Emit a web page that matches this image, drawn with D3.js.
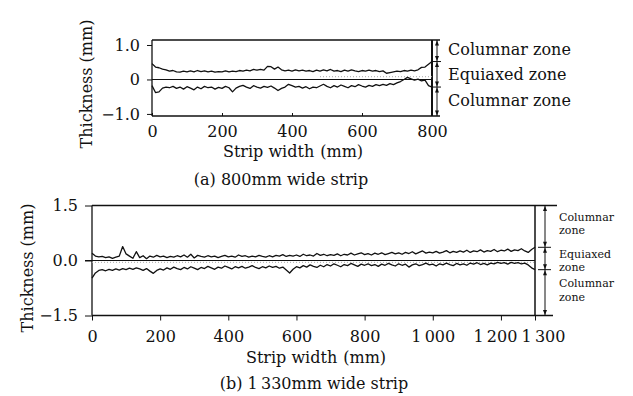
<!DOCTYPE html>
<html><head><meta charset="utf-8">
<script src="https://cdn.jsdelivr.net/npm/d3@7"></script>
<style>
html,body{margin:0;padding:0;background:#fff;}
svg{display:block;}
text{font-family:"DejaVu Serif",serif;fill:#111;}
</style></head>
<body>
<svg id="c" width="633" height="396"></svg>
<script>
// ---------- data ----------
const stepMM = 10;
// (a) 800 mm wide strip: thickness offsets (mm) sampled every 10 mm, 0..800
const topUpper = [0.46,0.36,0.34,0.30,0.28,0.24,0.26,0.22,0.21,0.24,0.22,0.25,0.22,0.26,0.23,0.25,0.22,0.24,0.21,0.23,
  0.22,0.25,0.22,0.24,0.23,0.26,0.24,0.27,0.25,0.29,0.27,0.29,0.27,0.38,0.37,0.30,0.36,0.28,0.25,0.27,
  0.24,0.28,0.25,0.27,0.24,0.26,0.23,0.27,0.24,0.28,0.25,0.29,0.24,0.26,0.23,0.27,0.24,0.28,0.25,0.23,
  0.26,0.24,0.27,0.24,0.26,0.23,0.25,0.18,0.20,0.22,0.24,0.23,0.26,0.24,0.27,0.25,0.28,0.35,0.36,0.44,0.52];
const topLower = [-0.18,-0.38,-0.36,-0.25,-0.22,-0.24,-0.20,-0.26,-0.22,-0.28,-0.21,-0.25,-0.30,-0.22,-0.27,-0.20,-0.24,-0.22,-0.28,-0.23,
  -0.26,-0.20,-0.24,-0.36,-0.25,-0.20,-0.17,-0.22,-0.26,-0.18,-0.22,-0.25,-0.20,-0.23,-0.19,-0.25,-0.32,-0.26,-0.22,-0.14,
  -0.18,-0.22,-0.20,-0.25,-0.21,-0.27,-0.22,-0.24,-0.19,-0.14,-0.20,-0.24,-0.18,-0.22,-0.16,-0.20,-0.24,-0.18,-0.21,-0.15,
  -0.19,-0.22,-0.17,-0.20,-0.15,-0.18,-0.14,-0.17,-0.12,-0.15,-0.10,-0.06,0.00,0.06,0.02,-0.02,0.01,-0.04,-0.02,-0.18,-0.22];
// (b) 1330 mm wide strip: sampled every 10 mm, 0..1300
const botUpper = [0.20,0.12,0.10,0.11,0.08,0.10,0.06,0.09,0.12,0.38,0.18,0.12,0.06,0.24,0.08,0.13,0.05,0.12,0.09,0.14,
  0.10,0.12,0.08,0.11,0.09,0.13,0.10,0.15,0.09,0.17,0.07,0.14,0.11,0.09,0.13,0.10,0.12,0.08,0.11,0.14,
  0.10,0.12,0.09,0.15,0.11,0.13,0.09,0.12,0.10,0.14,0.11,0.09,0.13,0.10,0.14,0.12,0.16,0.11,0.14,0.12,
  0.15,0.11,0.17,0.13,0.15,0.12,0.19,0.14,0.17,0.13,0.16,0.14,0.18,0.13,0.17,0.15,0.20,0.15,0.18,0.21,
  0.16,0.19,0.15,0.20,0.17,0.21,0.16,0.19,0.22,0.18,0.21,0.17,0.22,0.19,0.24,0.18,0.22,0.26,0.20,0.23,
  0.21,0.25,0.20,0.23,0.27,0.21,0.25,0.22,0.26,0.23,0.28,0.22,0.26,0.24,0.29,0.23,0.27,0.25,0.30,0.24,
  0.28,0.26,0.31,0.25,0.29,0.27,0.32,0.26,0.22,0.30,0.36];
const botLower = [-0.48,-0.34,-0.27,-0.25,-0.28,-0.24,-0.27,-0.23,-0.26,-0.22,-0.25,-0.21,-0.24,-0.20,-0.23,-0.27,-0.22,-0.29,-0.35,-0.27,
  -0.23,-0.26,-0.20,-0.24,-0.18,-0.22,-0.25,-0.19,-0.23,-0.17,-0.21,-0.25,-0.19,-0.22,-0.16,-0.20,-0.24,-0.18,-0.21,-0.15,
  -0.19,-0.23,-0.17,-0.20,-0.16,-0.21,-0.18,-0.14,-0.19,-0.22,-0.17,-0.20,-0.15,-0.19,-0.16,-0.21,-0.18,-0.26,-0.34,-0.24,
  -0.17,-0.20,-0.14,-0.18,-0.12,-0.16,-0.19,-0.13,-0.17,-0.11,-0.15,-0.09,-0.13,-0.17,-0.11,-0.14,-0.08,-0.12,-0.16,-0.10,
  -0.13,-0.09,-0.14,-0.11,-0.16,-0.10,-0.13,-0.08,-0.12,-0.15,-0.09,-0.13,-0.10,-0.18,-0.12,-0.09,-0.14,-0.11,-0.07,-0.12,
  -0.10,-0.15,-0.09,-0.12,-0.07,-0.11,-0.14,-0.08,-0.12,-0.09,-0.13,-0.07,-0.10,-0.06,-0.11,-0.08,-0.12,-0.07,-0.09,-0.05,
  -0.08,-0.06,-0.10,-0.05,-0.08,-0.06,-0.09,-0.07,-0.12,-0.20,-0.25];
const topXTicks = [0,200,400,600,800];
const topYTicks = [-1.0,0,1.0];
const topYLabels = ["\u22121.0","0","1.0"];
const botXTicks = [0,200,400,600,800,1000,1200,1300];
const botXLabels = ["0","200","400","600","800","1\u2009000","1\u2009200","1\u2009300"];
const botYTicks = [-1.5,0,1.5];
const botYLabels = ["\u22121.5","0.0","1.5"];
const topZones = ["Columnar zone","Equiaxed zone","Columnar zone"];
const botZones = [["Columnar","zone"],["Equiaxed","zone"],["Columnar","zone"]];
const topBounds = [0.52,-0.22];
const botBounds = [0.36,-0.25];

// ---------- drawing ----------
const svg = d3.select("#c");
const ink = "#111";

function curve(g, data, x, y){
  g.append("path")
    .datum(data.map((v,i)=>[i*stepMM, v]))
    .attr("fill","none").attr("stroke",ink).attr("stroke-width",1.3)
    .attr("stroke-linejoin","round")
    .attr("d", d3.line().x(d=>x(d[0])).y(d=>y(d[1])));
}
function arrow(g, x, y, dir){ // dir: -1 up, +1 down
  g.append("path")
   .attr("d", `M${x},${y} L${x-2},${y-dir*5} L${x+2},${y-dir*5} Z`)
   .attr("fill", ink);
}
function bracket(g, bx, yTop, yBot, yA, yB, tx0, tx1){
  g.append("line").attr("x1",bx).attr("x2",bx).attr("y1",yTop).attr("y2",yBot)
    .attr("stroke",ink).attr("stroke-width",1);
  [yA,yB].forEach(yy=>g.append("line").attr("x1",tx0).attr("x2",tx1).attr("y1",yy).attr("y2",yy)
    .attr("stroke",ink).attr("stroke-width",1));
  [[yTop,yA],[yA,yB],[yB,yBot]].forEach(([a,b])=>{ arrow(g,bx,a+0.5,-1); arrow(g,bx,b-0.5,1); });
}

// ===== (a) top panel =====
{
  const x = d3.scaleLinear().domain([0,800]).range([152,432]);
  const y = d3.scaleLinear().domain([-1.06,1.145]).range([116,40]);
  const g = svg.append("g");
  g.append("line").attr("x1",152).attr("x2",440).attr("y1",40).attr("y2",40).attr("stroke",ink).attr("stroke-width",1.3);
  g.append("line").attr("x1",152).attr("x2",440).attr("y1",116).attr("y2",116).attr("stroke",ink).attr("stroke-width",1.3);
  g.append("line").attr("x1",152).attr("x2",152).attr("y1",40).attr("y2",116).attr("stroke",ink).attr("stroke-width",1.3);
  g.append("line").attr("x1",x(800)).attr("x2",x(800)).attr("y1",40).attr("y2",116).attr("stroke",ink).attr("stroke-width",2);
  g.append("line").attr("x1",x(480)).attr("x2",x(800)).attr("y1",y(0.08)).attr("y2",y(0.08))
    .attr("stroke","#aaa").attr("stroke-width",1).attr("stroke-dasharray","1,2");
  g.append("line").attr("x1",152).attr("x2",x(800)).attr("y1",y(0)).attr("y2",y(0)).attr("stroke",ink).attr("stroke-width",1.1);
  const ya = d3.axisLeft(y).tickValues(topYTicks).tickSize(5).tickPadding(7)
     .tickFormat((d,i)=>topYLabels[i]);
  g.append("g").attr("transform","translate(152,0)").call(ya)
    .call(s=>{s.select(".domain").remove(); s.selectAll("line").attr("stroke",ink);
      s.selectAll("text").attr("font-size",16).attr("font-family","DejaVu Serif").attr("fill",ink);});
  const xa = d3.axisBottom(x).tickValues(topXTicks).tickSize(-3).tickPadding(10).tickFormat(d3.format("d"));
  g.append("g").attr("transform","translate(0,116)").call(xa)
    .call(s=>{s.select(".domain").remove(); s.selectAll("line").attr("stroke",ink);
      s.selectAll("text").attr("font-size",16).attr("font-family","DejaVu Serif").attr("fill",ink);});
  curve(g, topUpper, x, y);
  curve(g, topLower, x, y);
  bracket(g, 437, 40, 116, y(topBounds[0]), y(topBounds[1]), 433, 441);
  const zy = [55, 80, 106];
  topZones.forEach((t,i)=>g.append("text").attr("x",448).attr("y",zy[i]).attr("font-size",16).text(t));
  g.append("text").attr("transform","translate(86,84) rotate(-90)").attr("text-anchor","middle")
    .attr("dominant-baseline","central").attr("font-size",16).text("Thickness (mm)");
  g.append("text").attr("x",293).attr("y",157).attr("text-anchor","middle").attr("font-size",16)
    .text("Strip width").append("tspan").attr("dx",6).text("(mm)");
  g.append("text").attr("x",281).attr("y",185).attr("text-anchor","middle").attr("font-size",16)
    .text("(a) 800mm wide strip");
}

// ===== (b) bottom panel =====
{
  const x = d3.scaleLinear().domain([0,1300]).range([92,535]);
  const y = d3.scaleLinear().domain([-1.5,1.5]).range([315.5,205.5]);
  const g = svg.append("g");
  g.append("line").attr("x1",92).attr("x2",557).attr("y1",205.5).attr("y2",205.5).attr("stroke",ink).attr("stroke-width",1.3);
  g.append("line").attr("x1",92).attr("x2",553).attr("y1",315.5).attr("y2",315.5).attr("stroke",ink).attr("stroke-width",1.3);
  g.append("line").attr("x1",92).attr("x2",92).attr("y1",205.5).attr("y2",315.5).attr("stroke",ink).attr("stroke-width",1.3);
  g.append("line").attr("x1",x(1300)).attr("x2",x(1300)).attr("y1",205.5).attr("y2",315.5).attr("stroke",ink).attr("stroke-width",1.5);
  g.append("line").attr("x1",92).attr("x2",x(1300)).attr("y1",y(-0.05)).attr("y2",y(-0.05))
    .attr("stroke","#aaa").attr("stroke-width",1).attr("stroke-dasharray","1,2");
  g.append("line").attr("x1",85).attr("x2",x(1300)).attr("y1",y(0)).attr("y2",y(0)).attr("stroke",ink).attr("stroke-width",1.1);
  const ya = d3.axisLeft(y).tickValues(botYTicks).tickSize(7).tickPadding(7)
     .tickFormat((d,i)=>botYLabels[i]);
  g.append("g").attr("transform","translate(92,0)").call(ya)
    .call(s=>{s.select(".domain").remove(); s.selectAll("line").attr("stroke",ink);
      s.selectAll("text").attr("font-size",16).attr("font-family","DejaVu Serif").attr("fill",ink);});
  const xa = d3.axisBottom(x).tickValues(botXTicks).tickSize(5).tickPadding(10)
     .tickFormat((d,i)=>botXLabels[i]);
  g.append("g").attr("transform","translate(0,315.5)").call(xa)
    .call(s=>{s.select(".domain").remove(); s.selectAll("line").attr("stroke",ink);
      s.selectAll("text").attr("font-size",16).attr("font-family","DejaVu Serif").attr("fill",ink)
        .attr("dx",d=>d===1200?-6:(d===1300?8:0));});
  curve(g, botUpper, x, y);
  curve(g, botLower, x, y);
  bracket(g, 545, 205.5, 315.5, y(botBounds[0]), y(botBounds[1]), 538, 551);
  const zy = [[221,234],[257.5,271],[287,301]];
  botZones.forEach((pair,i)=>pair.forEach((t,j)=>g.append("text").attr("x",559).attr("y",zy[i][j])
    .attr("font-size",11).text(t)));
  g.append("text").attr("transform","translate(27,268) rotate(-90)").attr("text-anchor","middle")
    .attr("dominant-baseline","central").attr("font-size",16).text("Thickness (mm)");
  g.append("text").attr("x",316).attr("y",363).attr("text-anchor","middle").attr("font-size",16)
    .text("Strip width").append("tspan").attr("dx",6).text("(mm)");
  g.append("text").attr("x",314).attr("y",389).attr("text-anchor","middle").attr("font-size",16)
    .text("(b) 1\u2009330mm wide strip");
}
</script>
</body></html>
